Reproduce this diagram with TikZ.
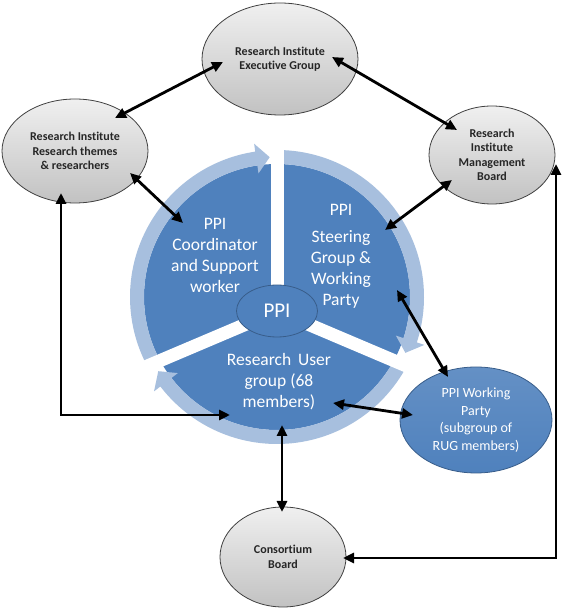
\documentclass[tikz,border=0pt]{standalone}
\usepackage{fontspec}
\setmainfont{Carlito}[Ligatures=NoCommon]
\usetikzlibrary{arrows.meta,shapes.geometric,calc}
\definecolor{P}{RGB}{79,129,189}
\definecolor{L}{RGB}{167,191,222}
\definecolor{D}{RGB}{56,93,138}
\definecolor{T}{RGB}{38,38,38}

% curved light arrow round the pie: tail angle, tip angle (clockwise)
\newcommand{\ringarrow}[2]{%
  \fill[L] ($(c)+(#1:147)$) arc[start angle=#1, end angle={#2+5.5}, radius=147]
    -- ($(c)+({#2+5.5}:155)$) -- ($(c)+(#2:140)$) -- ($(c)+({#2+5.5}:125)$)
    -- ($(c)+({#2+5.5}:133)$) arc[start angle={#2+5.5}, end angle=#1, radius=133] -- cycle;}

\tikzset{
  grey/.style={ellipse, draw=black!75, line width=0.8pt, top color=white!94!black,
    bottom color=black!24, text=T, align=center, inner sep=0pt,
    font=\bfseries\fontsize{12}{14.5}\selectfont},
  seg/.style={text=white, align=center, inner sep=0pt,
    font=\fontsize{17.5}{21}\selectfont},
  link/.style={line width=2.8pt,
    {Triangle[length=11pt,width=10pt]}-{Triangle[length=11pt,width=10pt]}},
}

\begin{document}
\begin{tikzpicture}[x=1pt,y=1pt]
  \useasboundingbox (0,0) rectangle (567,613);
  \fill[white] (0,0) rectangle (567,613);

  % the pie
  \coordinate (c) at (277,316);
  \coordinate (o) at (277,302);
  \fill[P] (c) circle (133);
  \ringarrow{207}{93}
  \ringarrow{89}{-23.5}
  \ringarrow{332}{212}
  % white gaps between the three parts
  \draw[white, line width=13pt] (o) -- ++(90:170);
  \draw[white, line width=13pt] (o) -- ++(-23:160);
  \draw[white, line width=13pt] (o) -- ++(203:170);
  \node[ellipse, draw=D, line width=0.8pt, fill=P, text=white, inner sep=0pt,
    minimum width=81pt, minimum height=52pt, font=\fontsize{21}{25}\selectfont]
    (ppi) at (o) {PPI};

  \node[seg] (coord) at (215,358) {PPI\\Coordinator\\and Support\\worker};
  \node[seg] (steer) at (341,357) {PPI\\[6pt]Steering\\Group \&\\Working\\Party};
  \node[seg] (rug) at (279,231) {Research\, User\\group (68\\members)};

  % outer groups
  \node[grey, minimum width=156pt, minimum height=112pt] (exec) at (280,554)
    {Research Institute\\Executive Group};
  \node[grey, minimum width=146pt, minimum height=104pt] (themes) at (75,462)
    {Research Institute\\Research themes\\\& researchers};
  \node[grey, minimum width=126pt, minimum height=98pt] (board) at (492,458)
    {Research\\Institute\\Management\\Board};
  \node[grey, minimum width=126pt, minimum height=100pt] (cons) at (283,56)
    {Consortium\\Board};
  \node[ellipse, draw=D, line width=0.8pt, top color=P!88!white, bottom color=P,
    text=white, align=center, inner sep=0pt, minimum width=152pt, minimum height=106pt,
    font=\fontsize{14}{17.5}\selectfont] (wp) at (476,193)
    {PPI Working\\Party\\(subgroup of\\RUG members)};

  % links
  \draw[link] ([shift={(-57,-3)}]exec.center) -- ([shift={(40,33)}]themes.center);
  \draw[link] ([shift={(52,2)}]exec.center) -- ([shift={(-35,25)}]board.center);
  \draw[link] ([shift={(55,-22)}]themes.center) -- ([shift={(-32,32)}]coord.center);
  \draw[link] ([shift={(-40,-25)}]board.center) -- ([shift={(44,26)}]steer.center);
  \draw[link] ([shift={(56,-34)}]steer.center) -- ([shift={(-28,43)}]wp.center);
  \draw[link] ([shift={(54,-21)}]rug.center) -- ([shift={(-63,5)}]wp.center);
  \draw[link] ([shift={(3,-43)}]rug.center) -- ([shift={(-1,45)}]cons.center);
  \draw[link] ([shift={(-14,-42)}]themes.center) |- ([shift={(-49,-33)}]rug.center);
  \draw[link] ([shift={(60,-1)}]cons.center) -| ([shift={(64,-9)}]board.center);
\end{tikzpicture}
\end{document}
